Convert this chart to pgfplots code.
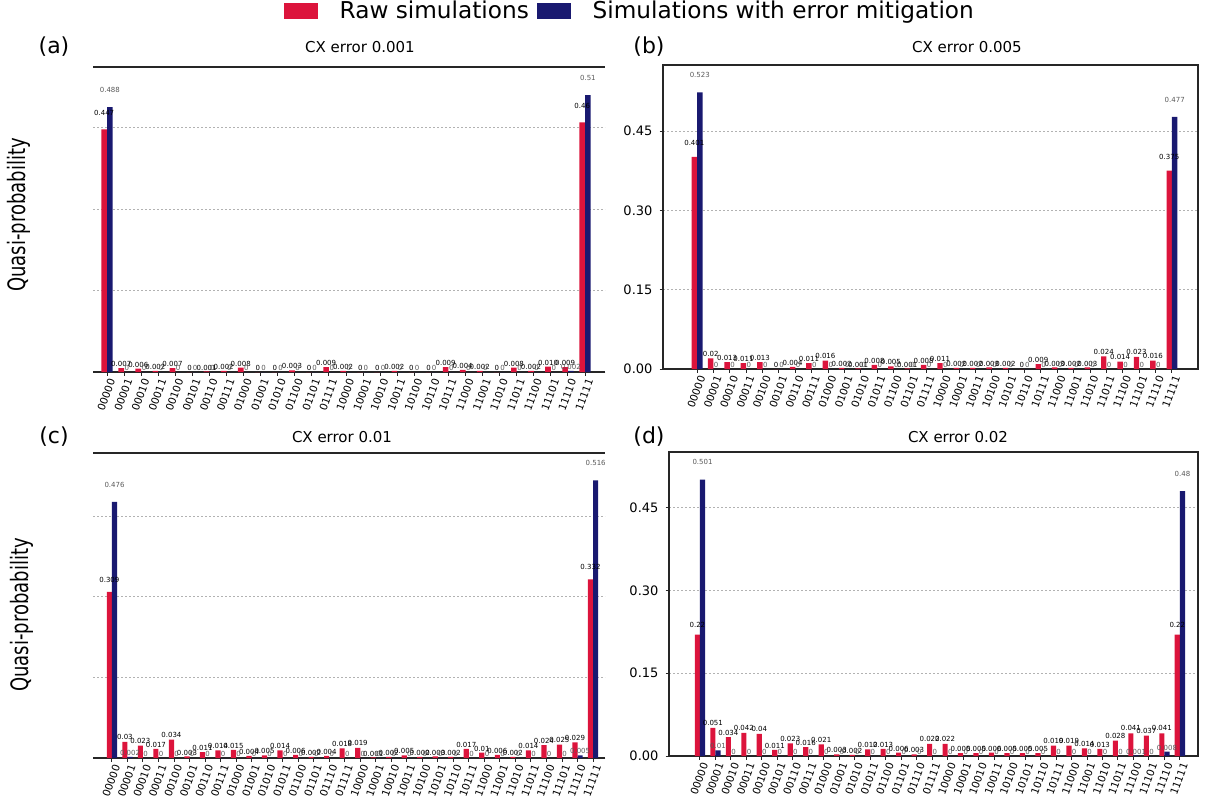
\documentclass[border=0pt]{standalone}
\usepackage{fontspec}
\setmainfont{DejaVu Sans}
\usepackage{pgfplots}
\usepackage{pgfplotstable}
\pgfplotsset{compat=1.18}
\definecolor{crimson}{RGB}{220,20,60}
\definecolor{midnight}{RGB}{25,25,112}

\pgfplotstableread{
x raw mit
0 0.447 0.488
1 0.007 0
2 0.006 0
3 0.002 0
4 0.007 0
5 0 0
6 0.001 0
7 0.002 0
8 0.008 0
9 0 0
10 0 0
11 0.003 0
12 0 0
13 0.009 0
14 0.002 0
15 0 0
16 0 0
17 0.002 0
18 0 0
19 0 0
20 0.009 0
21 0.004 0
22 0.002 0
23 0 0
24 0.008 0
25 0.002 0
26 0.010 0
27 0.009 0.002
28 0.46 0.51
}\tabA

\pgfplotstableread{
x raw mit
0 0.401 0.523
1 0.02 0
2 0.013 0
3 0.011 0
4 0.013 0
5 0 0
6 0.004 0
7 0.011 0
8 0.016 0
9 0.002 0
10 0.001 0
11 0.008 0
12 0.005 0
13 0.001 0
14 0.008 0
15 0.011 0
16 0.002 0
17 0.002 0
18 0.003 0
19 0.002 0
20 0 0
21 0.009 0
22 0.003 0
23 0.002 0
24 0.003 0
25 0.024 0
26 0.014 0
27 0.023 0
28 0.016 0
29 0.375 0.477
}\tabB

\pgfplotstableread{
x raw mit
0 0.309 0.476
1 0.03 0.002
2 0.023 0
3 0.017 0
4 0.034 0
5 0.003 0
6 0.011 0
7 0.014 0
8 0.015 0
9 0.004 0
10 0.005 0
11 0.014 0
12 0.006 0
13 0.002 0
14 0.004 0
15 0.018 0
16 0.019 0
17 0.001 0
18 0.002 0
19 0.005 0
20 0.002 0
21 0.003 0
22 0.002 0
23 0.017 0
24 0.01 0
25 0.006 0
26 0.002 0
27 0.014 0
28 0.024 0
29 0.025 0
30 0.029 0.005
31 0.332 0.516
}\tabC

\pgfplotstableread{
x raw mit
0 0.22 0.501
1 0.051 0.01
2 0.034 0
3 0.042 0
4 0.04 0
5 0.011 0
6 0.023 0
7 0.016 0
8 0.021 0
9 0.003 0
10 0.002 0
11 0.012 0
12 0.013 0
13 0.006 0
14 0.003 0
15 0.022 0
16 0.022 0
17 0.005 0
18 0.005 0
19 0.006 0
20 0.005 0
21 0.005 0
22 0.005 0
23 0.019 0
24 0.019 0
25 0.014 0
26 0.013 0
27 0.028 0
28 0.041 0.001
29 0.037 0
30 0.041 0.008
31 0.22 0.48
}\tabD

\pgfplotsset{
  panel/.style={
    scale only axis, anchor=south west, clip=false,
    ybar, bar width=0.3333,
    ymin=0,
    ytick={0,0.15,0.30,0.45},
    ymajorgrids, grid style={dash pattern=on 1.2pt off 0.8pt, gray!60, line width=0.35pt},
    axis line style={black!85, line width=0.6pt},
    tick align=outside, xtick pos=lower, ytick pos=left,
    major tick length=1.75pt,
    tick style={black!85, line width=0.5pt},
    xticklabel style={rotate=70, anchor=north east, font=\fontsize{5.2}{6}\selectfont, inner sep=0.8pt},
    /pgf/number format/assume math mode=true,
    yticklabel style={font=\fontsize{6.5}{7}\selectfont, /pgf/number format/.cd, fixed, fixed zerofill, precision=2},
    nodes near coords, point meta=explicit symbolic,
    visualization depends on={rawy \as \yval},
    every node near coord/.append style={font=\fontsize{3.5}{4}\selectfont, inner sep=0.4pt, anchor=south},
  },
  lk/.style={every node near coord/.append style={yshift={#1*\yval}}},
  noleft/.style={separate axis lines, y axis line style={draw=none}, ytick style={draw=none}, yticklabels={}},
  rawbar/.style={fill=crimson, draw=none, bar shift=-0.16667, every node near coord/.append style={text=black}},
  mitbar/.style={fill=midnight, draw=none, bar shift=0.16667, every node near coord/.append style={text=black!65}},
}

\begin{document}
\begin{tikzpicture}
\useasboundingbox (0,0) rectangle (605pt,400pt);

% ---------- (a) ----------
\begin{axis}[panel, noleft, lk=13.6,
  at={(46.5pt,214pt)}, width=256pt, height=152.5pt,
  xmin=-0.82, xmax=29.17, ymax=0.562,
  xtick={0,...,28},
  xticklabels={00000,00001,00010,00011,00100,00101,00110,00111,01000,01001,01010,01100,01101,01111,10000,10001,10010,10011,10100,10110,10111,11000,11001,11010,11011,11100,11101,11110,11111},
  legend columns=2,
  legend style={at={(0.372,1.184)}, anchor=west, draw=none, fill=none, inner xsep=0pt,
    font=\fontsize{11.6}{13}\selectfont,
    /tikz/every odd column/.append style={column sep=9pt},
    /tikz/every even column/.append style={column sep=2pt}},
]
\addlegendimage{legend image code/.code={\fill[crimson] (0pt,-3.75pt) rectangle (16.5pt,3.75pt);}}
\addlegendentry{Raw simulations}
\addlegendimage{legend image code/.code={\fill[midnight] (0pt,-3.75pt) rectangle (16.5pt,3.75pt);}}
\addlegendentry{Simulations with error mitigation}
\addplot[rawbar] table[x=x, y=raw, meta=raw]{\tabA};
\addplot[mitbar] table[x=x, y=mit, meta=mit]{\tabA};
\end{axis}

% ---------- (b) ----------
\begin{axis}[panel, lk=13.2,
  at={(331.5pt,215.5pt)}, width=267.5pt, height=152pt,
  xmin=-2.08, xmax=30.59, ymax=0.575,
  xtick={0,...,29},
  xticklabels={00000,00001,00010,00011,00100,00101,00110,00111,01000,01001,01010,01011,01100,01101,01111,10000,10001,10011,10100,10101,10110,10111,11000,11001,11010,11011,11100,11101,11110,11111},
]
\addplot[rawbar] table[x=x, y=raw, meta=raw]{\tabB};
\addplot[mitbar] table[x=x, y=mit, meta=mit]{\tabB};
\end{axis}

% ---------- (c) ----------
\begin{axis}[panel, noleft, lk=13.4,
  at={(46.5pt,21pt)}, width=256pt, height=152.5pt,
  xmin=-1.22, xmax=31.77, ymax=0.567,
  xtick={0,...,31},
  xticklabels={00000,00001,00010,00011,00100,00101,00110,00111,01000,01001,01010,01011,01100,01101,01110,01111,10000,10001,10010,10011,10100,10101,10110,10111,11000,11001,11010,11011,11100,11101,11110,11111},
]
\addplot[rawbar] table[x=x, y=raw, meta=raw]{\tabC};
\addplot[mitbar] table[x=x, y=mit, meta=mit]{\tabC};
\end{axis}

% ---------- (d) ----------
\begin{axis}[panel, lk=13.8,
  at={(334.5pt,22pt)}, width=264.5pt, height=152pt,
  xmin=-2.0, xmax=32.17, ymax=0.551,
  xtick={0,...,31},
  xticklabels={00000,00001,00010,00011,00100,00101,00110,00111,01000,01001,01010,01011,01100,01101,01110,01111,10000,10001,10010,10011,10100,10101,10110,10111,11000,11001,11010,11011,11100,11101,11110,11111},
]
\addplot[rawbar] table[x=x, y=raw, meta=raw]{\tabD};
\addplot[mitbar] table[x=x, y=mit, meta=mit]{\tabD};
\end{axis}

% titles and panel letters
\node[font=\fontsize{7.5}{9}\selectfont] at (180pt,376.5pt) {CX error 0.001};
\node[font=\fontsize{7.5}{9}\selectfont] at (483.5pt,376.5pt) {CX error 0.005};
\node[font=\fontsize{7.5}{9}\selectfont] at (171pt,181.5pt) {CX error 0.01};
\node[font=\fontsize{7.5}{9}\selectfont] at (479pt,181.5pt) {CX error 0.02};
\node[font=\fontsize{11}{13}\selectfont] at (27pt,376.5pt) {(a)};
\node[font=\fontsize{11}{13}\selectfont] at (324.5pt,376.5pt) {(b)};
\node[font=\fontsize{11}{13}\selectfont] at (27pt,181.5pt) {(c)};
\node[font=\fontsize{11}{13}\selectfont] at (324.5pt,181.5pt) {(d)};
\node[rotate=90, font=\fontsize{12}{14}\selectfont] at (9.5pt,292.5pt) {\scalebox{0.75}[1]{Quasi-probability}};
\node[rotate=90, font=\fontsize{12}{14}\selectfont] at (11pt,92.5pt) {\scalebox{0.75}[1]{Quasi-probability}};
\end{tikzpicture}
\end{document}
